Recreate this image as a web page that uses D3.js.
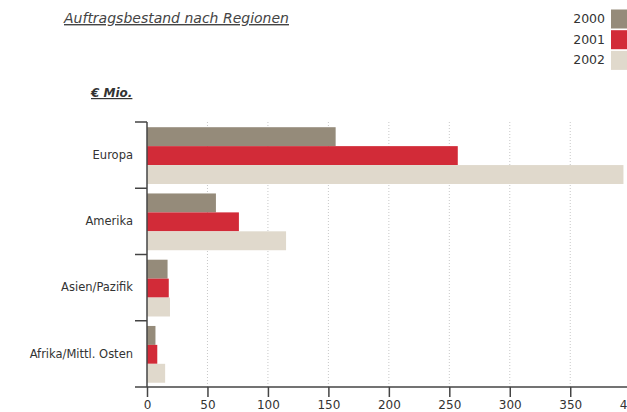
<!DOCTYPE html>
<html>
<head>
<meta charset="utf-8">
<script src="https://cdn.jsdelivr.net/npm/d3@7"></script>
<style>
  body { margin: 0; background: #fff; }
  svg { display: block; font-family: "DejaVu Sans", Verdana, sans-serif; }
</style>
</head>
<body>
<div id="chart"></div>
<script>
// data
const regions = ["Europa", "Amerika", "Asien/Pazifik", "Afrika/Mittl. Osten"];
const years = ["2000", "2001", "2002"];
const values2000 = [156, 57, 17, 7];
const values2001 = [257, 76, 18, 8.5];
const values2002 = [394, 115, 19, 15];
const xTicks = [0, 50, 100, 150, 200, 250, 300, 350, 400];
const colors = ["#958b7a", "#d22b38", "#e0d9cc"];

const series = [values2000, values2001, values2002];

const width = 627, height = 412;
const mLeft = 147, mTop = 122, mBottom = 387;

const svg = d3.select("#chart").append("svg")
  .attr("width", width).attr("height", height);

// scales
const x = d3.scaleLinear().domain([0, 400]).range([mLeft, mLeft + 483.7]);
const y = d3.scaleBand().domain(regions).range([mTop, mBottom]);
const yInner = d3.scaleBand().domain(years)
  .range([0, y.bandwidth()]).paddingOuter(0.25).align(0.55);

// title
svg.append("text")
  .attr("x", 64).attr("y", 23)
  .style("font-size", "14px").style("font-style", "italic")
  .style("text-decoration", "underline")
  .attr("fill", "#444")
  .text("Auftragsbestand nach Regionen");

svg.append("text")
  .attr("x", 91).attr("y", 97)
  .style("font-size", "12px").style("font-style", "italic").style("font-weight", "bold")
  .style("text-decoration", "underline")
  .attr("fill", "#333")
  .text("€ Mio.");

// grid
svg.append("g").selectAll("line")
  .data(xTicks.slice(1))
  .enter().append("line")
  .attr("x1", d => x(d)).attr("x2", d => x(d))
  .attr("y1", mTop).attr("y2", mBottom)
  .attr("stroke", "#c8c8c8")
  .attr("stroke-dasharray", "1,2");

// bars
regions.forEach((r, i) => {
  svg.append("g").selectAll("rect")
    .data(series.map((s, k) => ({ year: years[k], v: s[i], c: colors[k] })))
    .enter().append("rect")
    .attr("x", x(0))
    .attr("y", d => y(r) + yInner(d.year))
    .attr("height", yInner.bandwidth())
    .attr("width", d => x(d.v) - x(0))
    .attr("fill", d => d.c);
});

// x axis
const xAxis = svg.append("g")
  .attr("transform", `translate(0,${mBottom})`)
  .call(d3.axisBottom(x).tickValues(xTicks).tickSize(10).tickSizeOuter(0).tickPadding(3));
xAxis.select(".domain").remove();
xAxis.append("line")
  .attr("x1", 135).attr("x2", width).attr("y1", 0).attr("y2", 0)
  .attr("stroke", "#444").attr("stroke-width", 1.5);
xAxis.selectAll(".tick line").attr("stroke", "#444").attr("stroke-width", 1.5);
xAxis.selectAll(".tick text").attr("fill", "#333").style("font-size", "12px")
  .style("font-family", "DejaVu Sans, sans-serif");

// y axis
const yAxis = svg.append("g")
  .attr("transform", `translate(${mLeft},0)`)
  .call(d3.axisLeft(y).tickSize(0).tickPadding(14));
yAxis.select(".domain").attr("stroke", "#444").attr("stroke-width", 1.5)
  .attr("d", `M0,${mTop}V${mBottom}`);
yAxis.selectAll(".tick text").attr("fill", "#333").style("font-size", "11.5px")
  .style("font-family", "DejaVu Sans, sans-serif");
yAxis.selectAll(".sep")
  .data(regions)
  .enter().append("line")
  .attr("x1", -12).attr("x2", 0)
  .attr("y1", d => y(d)).attr("y2", d => y(d))
  .attr("stroke", "#444").attr("stroke-width", 1.5);

// legend
const legend = svg.append("g");
years.forEach((yr, k) => {
  legend.append("rect")
    .attr("x", 611).attr("y", 9.5 + k * 20.7)
    .attr("width", 16).attr("height", 19)
    .attr("fill", colors[k]);
  legend.append("text")
    .attr("x", 605).attr("y", 23 + k * 20.7)
    .attr("text-anchor", "end")
    .attr("fill", "#333").style("font-size", "12.5px")
    .text(yr);
});
</script>
</body>
</html>
